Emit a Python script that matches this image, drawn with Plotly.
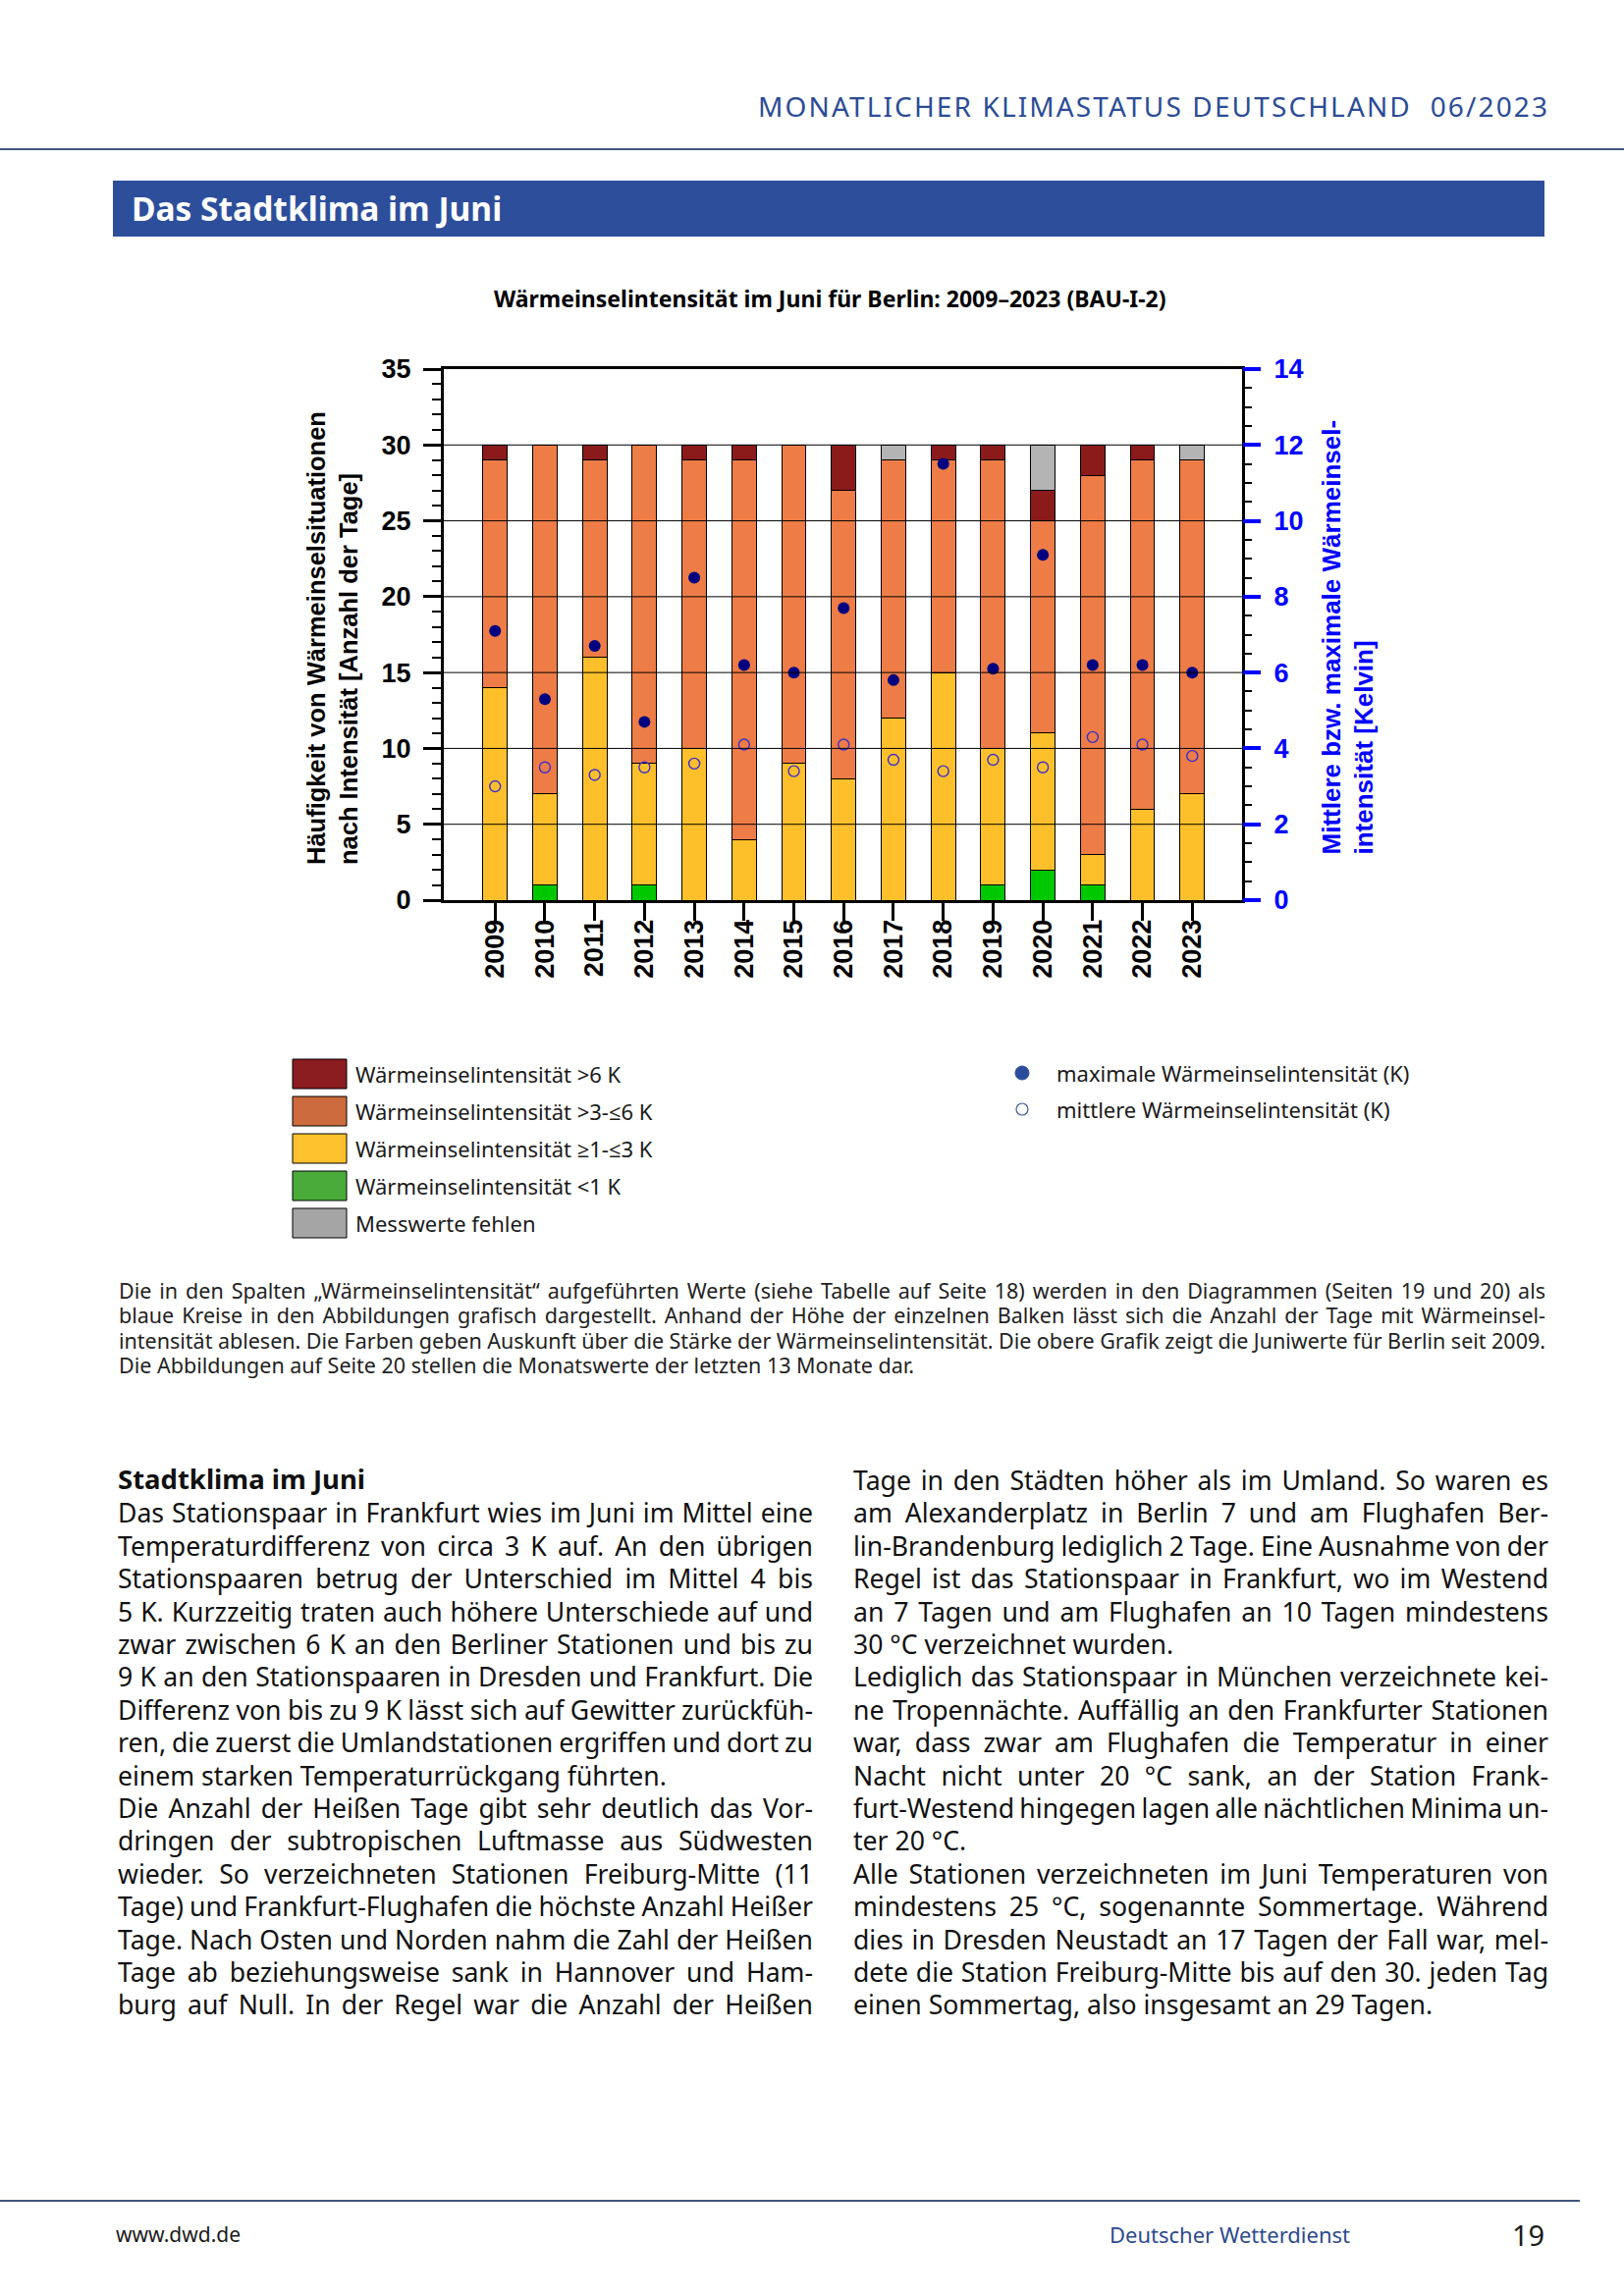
import json
import plotly.graph_objects as go

W, H = 1654, 2339

# ---------------- data ----------------
years = ["2009", "2010", "2011", "2012", "2013", "2014", "2015", "2016",
         "2017", "2018", "2019", "2020", "2021", "2022", "2023"]
days_lt1 = [0, 1, 0, 1, 0, 0, 0, 0, 0, 0, 1, 2, 1, 0, 0]
days_1_3 = [14, 6, 16, 8, 10, 4, 9, 8, 12, 15, 9, 9, 2, 6, 7]
days_3_6 = [15, 23, 13, 21, 19, 25, 21, 19, 17, 14, 19, 14, 25, 23, 22]
days_gt6 = [1, 0, 1, 0, 1, 1, 0, 3, 0, 1, 1, 2, 2, 1, 0]
days_missing = [0, 0, 0, 0, 0, 0, 0, 0, 1, 0, 0, 3, 0, 0, 1]
max_intensity = [7.1, 5.3, 6.7, 4.7, 8.5, 6.2, 6.0, 7.7, 5.8, 11.5, 6.1, 9.1, 6.2, 6.2, 6.0]
mean_intensity = [3.0, 3.5, 3.3, 3.5, 3.6, 4.1, 3.4, 4.1, 3.7, 3.4, 3.7, 3.5, 4.3, 4.1, 3.8]

left_ticks = [0, 5, 10, 15, 20, 25, 30, 35]
right_ticks = [0, 2, 4, 6, 8, 10, 12, 14]
grid_levels = [5, 10, 15, 20, 25, 30]

legend_labels = ["Wärmeinselintensität &gt;6 K", "Wärmeinselintensität &gt;3-≤6 K",
                 "Wärmeinselintensität ≥1-≤3 K", "Wärmeinselintensität &lt;1 K",
                 "Messwerte fehlen"]
legend_colors = ["#8b1c20", "#cc6b3d", "#fdc22d", "#4aab3a", "#a5a5a5"]
marker_labels = ["maximale Wärmeinselintensität (K)", "mittlere Wärmeinselintensität (K)"]

caption_lines = [
    "Die in den Spalten „Wärmeinselintensität“ aufgeführten Werte (siehe Tabelle auf Seite 18) werden in den Diagrammen (Seiten 19 und 20) als",
    "blaue Kreise in den Abbildungen grafisch dargestellt. Anhand der Höhe der einzelnen Balken lässt sich die Anzahl der Tage mit Wärmeinsel-",
    "intensität ablesen. Die Farben geben Auskunft über die Stärke der Wärmeinselintensität. Die obere Grafik zeigt die Juniwerte für Berlin seit 2009.",
    "Die Abbildungen auf Seite 20 stellen die Monatswerte der letzten 13 Monate dar.",
]
caption_end = [False, False, False, True]

left_lines = [
    "Das Stationspaar in Frankfurt wies im Juni im Mittel eine",
    "Temperaturdifferenz von circa 3 K auf. An den übrigen",
    "Stationspaaren betrug der Unterschied im Mittel 4 bis",
    "5 K. Kurzzeitig traten auch höhere Unterschiede auf und",
    "zwar zwischen 6 K an den Berliner Stationen und bis zu",
    "9 K an den Stationspaaren in Dresden und Frankfurt. Die",
    "Differenz von bis zu 9 K lässt sich auf Gewitter zurückfüh-",
    "ren, die zuerst die Umlandstationen ergriffen und dort zu",
    "einem starken Temperaturrückgang führten.",
    "Die Anzahl der Heißen Tage gibt sehr deutlich das Vor-",
    "dringen der subtropischen Luftmasse aus Südwesten",
    "wieder. So verzeichneten Stationen Freiburg-Mitte (11",
    "Tage) und Frankfurt-Flughafen die höchste Anzahl Heißer",
    "Tage. Nach Osten und Norden nahm die Zahl der Heißen",
    "Tage ab beziehungsweise sank in Hannover und Ham-",
    "burg auf Null. In der Regel war die Anzahl der Heißen",
]
left_end = [False] * 8 + [True] + [False] * 7

right_lines = [
    "Tage in den Städten höher als im Umland. So waren es",
    "am Alexanderplatz in Berlin 7 und am Flughafen Ber-",
    "lin-Brandenburg lediglich 2 Tage. Eine Ausnahme von der",
    "Regel ist das Stationspaar in Frankfurt, wo im Westend",
    "an 7 Tagen und am Flughafen an 10 Tagen mindestens",
    "30 °C verzeichnet wurden.",
    "Lediglich das Stationspaar in München verzeichnete kei-",
    "ne Tropennächte. Auffällig an den Frankfurter Stationen",
    "war, dass zwar am Flughafen die Temperatur in einer",
    "Nacht nicht unter 20 °C sank, an der Station Frank-",
    "furt-Westend hingegen lagen alle nächtlichen Minima un-",
    "ter 20 °C.",
    "Alle Stationen verzeichneten im Juni Temperaturen von",
    "mindestens 25 °C, sogenannte Sommertage. Während",
    "dies in Dresden Neustadt an 17 Tagen der Fall war, mel-",
    "dete die Station Freiburg-Mitte bis auf den 30. jeden Tag",
    "einen Sommertag, also insgesamt an 29 Tagen.",
]
right_end = [False] * 5 + [True] + [False] * 5 + [True] + [False] * 4 + [True]

# ---------------- helpers ----------------
def px(x):
    return x / W


def py(y):
    return 1 - y / H


ARIAL = "Liberation Sans, Arial, sans-serif"
NOTO = "Noto Sans, Open Sans, sans-serif"

annotations = []
shapes = []
justify = []


def text(x, y, s, size, color="#1a1a1a", family=NOTO, weight="normal",
         xanchor="left", yanchor="middle", angle=0, align="left", just=None):
    annotations.append(dict(
        x=px(x), y=py(y), xref="paper", yref="paper", text=s, showarrow=False,
        xanchor=xanchor, yanchor=yanchor, textangle=angle, align=align,
        font=dict(family=family, size=size, color=color, weight=weight)))
    if just is not None:
        justify.append(dict(i=len(annotations) - 1, w=just[0], m=just[1]))


# ---------------- chart ----------------
fig = go.Figure()
bar_series = [
    ("Wärmeinselintensität <1 K", days_lt1, "#00c800"),
    ("Wärmeinselintensität ≥1-≤3 K", days_1_3, "#fdc02a"),
    ("Wärmeinselintensität >3-≤6 K", days_3_6, "#ed7c46"),
    ("Wärmeinselintensität >6 K", days_gt6, "#8b1a1a"),
    ("Messwerte fehlen", days_missing, "#b4b4b4"),
]
for name, vals, col in bar_series:
    fig.add_bar(x=years, y=vals, name=name, width=0.49,
                marker=dict(color=col, line=dict(color="black", width=1)),
                showlegend=False)

fig.add_scatter(x=years, y=max_intensity, yaxis="y2", mode="markers",
                name="maximale Wärmeinselintensität (K)", showlegend=False,
                marker=dict(size=12, color="#000080"))
fig.add_scatter(x=years, y=mean_intensity, yaxis="y2", mode="markers",
                name="mittlere Wärmeinselintensität (K)", showlegend=False,
                marker=dict(size=11, symbol="circle-open", color="#3a2fd0",
                            line=dict(width=1.4)))

tickfont = dict(family=ARIAL, size=27, color="black", weight="bold")
fig.update_layout(
    width=W, height=H, margin=dict(l=0, r=0, t=0, b=0, autoexpand=False),
    paper_bgcolor="white", plot_bgcolor="white", barmode="stack",
    showlegend=False,
    xaxis=dict(domain=[px(452), px(1265)], type="category", range=[-1.03, 15.0],
               tickangle=-90, ticks="outside", ticklen=18, tickwidth=3,
               tickcolor="black", showline=True, linewidth=3, linecolor="black",
               mirror=True, showgrid=False, zeroline=False, tickfont=tickfont,
               ticklabelstandoff=-12),
    yaxis=dict(domain=[py(917), py(376)], range=[0, 35], tickvals=left_ticks,
               ticks="outside", ticklen=18, tickwidth=3, tickcolor="black",
               minor=dict(dtick=1, ticks="outside", ticklen=9, tickwidth=1.5,
                          tickcolor="black"),
               showline=True, linewidth=3, linecolor="black", mirror=True,
               showgrid=False, zeroline=False, tickfont=tickfont,
               ticklabelstandoff=7),
    yaxis2=dict(overlaying="y", side="right", range=[0, 14], tickvals=right_ticks,
                ticks="outside", ticklen=18, tickwidth=4, tickcolor="#0000ff",
                minor=dict(dtick=0.5, ticks="outside", ticklen=9, tickwidth=1.5,
                           tickcolor="black"),
                showline=False, showgrid=False, zeroline=False,
                tickfont=dict(family=ARIAL, size=27, color="#0000ff", weight="bold"),
                ticklabelstandoff=8),
)

for g in grid_levels:
    shapes.append(dict(type="line", xref="x domain", yref="y", x0=0, x1=1,
                       y0=g, y1=g, line=dict(color="black", width=1), layer="above"))

# axis titles
text(338, 883, "Häufigkeit von Wärmeinselsituationen<br>nach Intensität [Anzahl der Tage]",
     25.5, color="black", family=ARIAL, weight="bold", xanchor="center",
     yanchor="bottom", angle=-90, align="left")
text(1373, 873, "Mittlere bzw. maximale Wärmeinsel-<br>intensität [Kelvin]",
     26, color="#0000ff", family=ARIAL, weight="bold", xanchor="center",
     yanchor="bottom", angle=-90, align="left")

# chart title
text(846, 304, "Wärmeinselintensität im Juni für Berlin: 2009–2023 (BAU-I-2)", 23,
     color="black", weight="bold", xanchor="center")

# ---------------- page header ----------------
text(770, 108, "MONATLICHER KLIMASTATUS DEUTSCHLAND  06/2023", 28, color="#2b4c96",
     just=(804, "letter"))
shapes.append(dict(type="line", xref="paper", yref="paper", x0=0, x1=1,
                   y0=py(152), y1=py(152), line=dict(color="#42557f", width=2)))
shapes.append(dict(type="rect", xref="paper", yref="paper", x0=px(115), x1=px(1573),
                   y0=py(241), y1=py(184), fillcolor="#2d4e9b", line=dict(width=0)))
text(132, 212, "Das Stadtklima im Juni", 33.5, color="white", weight="bold")

# ---------------- legend ----------------
row_y = [1094, 1132, 1170, 1208, 1246]
for lab, col, yc in zip(legend_labels, legend_colors, row_y):
    shapes.append(dict(type="rect", xref="paper", yref="paper", x0=px(298), x1=px(353),
                       y0=py(yc + 15), y1=py(yc - 15), fillcolor=col,
                       line=dict(color="black", width=1)))
    text(360, yc, lab, 22)

shapes.append(dict(type="circle", xref="paper", yref="paper", x0=px(1034), x1=px(1048),
                   y0=py(1100), y1=py(1086), fillcolor="#2b4b9b",
                   line=dict(color="#2b4b9b", width=1)))
shapes.append(dict(type="circle", xref="paper", yref="paper", x0=px(1035), x1=px(1047),
                   y0=py(1136), y1=py(1124), fillcolor="white",
                   line=dict(color="#3b5a9a", width=1.2)))
text(1074, 1093, marker_labels[0], 22)
text(1074, 1130, marker_labels[1], 22)

# ---------------- caption ----------------
for k, (ln, end) in enumerate(zip(caption_lines, caption_end)):
    text(119, 1314 + 25.5 * k, ln, 21.5, color="#222222",
         just=None if end else (1453, "word"))

# ---------------- body text ----------------
LH = 33.4
text(118, 1506, "Stadtklima im Juni", 27.5, color="#111111", weight="bold")
for k, (ln, end) in enumerate(zip(left_lines, left_end)):
    text(118, 1508 + LH * (k + 1), ln, 26.6, color="#111111",
         just=None if end else (708, "word"))
for k, (ln, end) in enumerate(zip(right_lines, right_end)):
    text(867, 1508 + LH * k, ln, 26.6, color="#111111",
         just=None if end else (708, "word"))

# ---------------- footer ----------------
shapes.append(dict(type="line", xref="paper", yref="paper", x0=0, x1=px(1609),
                   y0=py(2242), y1=py(2242), line=dict(color="#42557f", width=2)))
text(116, 2276, "www.dwd.de", 21, color="#1a1a1a")
text(1377, 2276, "Deutscher Wetterdienst", 22, color="#2d4a8f", xanchor="right")
text(1575, 2276, "19", 29, color="#1a1a1a", xanchor="right")

fig.update_layout(annotations=annotations, shapes=shapes)

post = """
var de = document.documentElement, bd = document.body;
[de, bd].forEach(function(e){
  e.style.margin = '0'; e.style.padding = '0'; e.style.overflow = 'hidden';
  e.style.width = '%dpx'; e.style.height = '%dpx';
});
var gd = document.getElementById('{plot_id}');
gd.style.position = 'absolute'; gd.style.left = '0px'; gd.style.top = '0px';
var J = %s;
function doJ(){
  J.forEach(function(o){
    var g = gd.querySelector('g.annotation[data-index="' + o.i + '"]');
    if(!g) return;
    var t = g.querySelector('text');
    if(!t) return;
    t.style.wordSpacing = '0px';
    t.style.letterSpacing = '0px';
    var n = t.getComputedTextLength();
    var s = t.textContent;
    if(o.m === 'word'){
      var k = (s.match(/ /g) || []).length;
      var ws = k > 0 ? (o.w - n) / k : 0;
      if(ws < -2.5){
        t.style.letterSpacing = ((o.w - n) / (s.length - 1)) + 'px';
      } else if(k > 0){
        t.style.wordSpacing = ws + 'px';
      }
    } else {
      var k2 = s.length - 1;
      if(k2 > 0) t.style.letterSpacing = ((o.w - n) / k2) + 'px';
    }
  });
}
doJ();
gd.on('plotly_afterplot', doJ);
""" % (W, H, json.dumps(justify))

fig.write_html("out.html", post_script=post, config={"displayModeBar": False})
